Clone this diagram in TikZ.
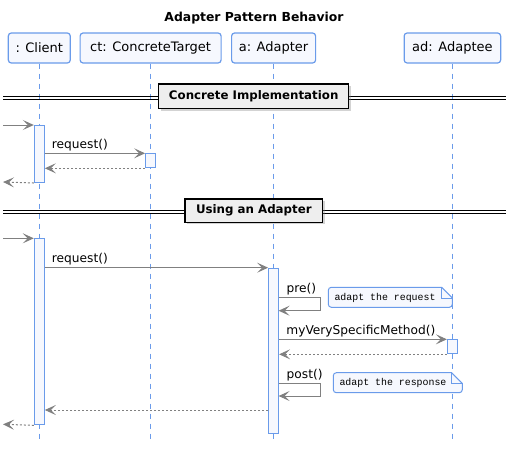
\documentclass[tikz,border=0pt]{standalone}
\usepackage{fontspec}
\setmainfont{DejaVu Sans}
\newfontfamily\notefont{Liberation Mono}
\usetikzlibrary{arrows.meta,shadows}
\definecolor{lblue}{HTML}{6A9BEA}
\definecolor{pfill}{HTML}{F6F8FE}
\definecolor{agray}{HTML}{808080}
\definecolor{dfill}{HTML}{EEEEEE}
\begin{document}
\begin{tikzpicture}[x=1pt,y=-1pt,
  part/.style={draw=lblue, fill=pfill, line width=1.2pt, rounded corners=3pt, minimum height=30pt, inner sep=0pt, font=\fontsize{13}{15}\selectfont},
  lifeline/.style={draw=lblue, line width=0.9pt, dash pattern=on 5pt off 5pt},
  act/.style={draw=lblue, fill=pfill, line width=1pt, minimum width=10pt, inner sep=0pt, anchor=north},
  msg/.style={draw=agray, line width=1pt, -{Stealth[length=11pt, width=10pt, inset=5pt]}},
  ret/.style={msg, dash pattern=on 2pt off 2pt},
  lbl/.style={anchor=base west, inner sep=0pt, font=\fontsize{12.2}{14}\selectfont},
  divline/.style={draw=black, line width=0.9pt},
  divbox/.style={draw=black, fill=dfill, line width=1.4pt, inner sep=0pt, font=\bfseries\fontsize{11.8}{14}\selectfont, drop shadow={shadow xshift=2pt, shadow yshift=-2pt, opacity=0.35}},
  notebox/.style={draw=lblue, fill=pfill, line width=1pt},
  notetext/.style={anchor=west, inner sep=0pt, font=\notefont\fontsize{9.9}{12}\selectfont}
]
\useasboundingbox (0,0) rectangle (516,453);

% title
\node[font=\bfseries\fontsize{12.4}{15}\selectfont] (title) at (254,18) {Adapter Pattern Behavior};

% participants
\node[part, minimum width=62pt] (client) at (39.3,48) {: Client};
\node[part, minimum width=141pt] (ct) at (150.6,48) {ct: ConcreteTarget};
\node[part, minimum width=84pt] (ad) at (273.6,48) {a: Adapter};
\node[part, minimum width=96.5pt] (adp) at (452.4,48) {ad: Adaptee};

% lifeline ends
\coordinate (clientE) at (39.3,439);
\coordinate (ctE) at (150.6,439);
\coordinate (adE) at (273.6,439);
\coordinate (adpE) at (452.4,439);
\draw[lifeline] (client.south) -- (clientE);
\draw[lifeline] (ct.south) -- (ctE);
\draw[lifeline] (ad.south) -- (adE);
\draw[lifeline] (adp.south) -- (adpE);

% divider 1
\coordinate (d1l) at (3,96); \coordinate (d1r) at (506,96);
\coordinate (d1l2) at (3,99); \coordinate (d1r2) at (506,99);
\draw[divline] (d1l) -- (d1r);
\draw[divline] (d1l2) -- (d1r2);
\node[divbox, minimum width=190pt, minimum height=24.5pt] (div1) at (253.7,96.4) {Concrete Implementation};

% divider 2
\coordinate (d2l) at (3,210); \coordinate (d2r) at (506,210);
\coordinate (d2l2) at (3,213); \coordinate (d2r2) at (506,213);
\draw[divline] (d2l) -- (d2r);
\draw[divline] (d2l2) -- (d2r2);
\node[divbox, minimum width=137.5pt, minimum height=23.3pt] (div2) at (253.8,210.7) {Using an Adapter};

% activations part 1
\node[act, minimum height=57pt] (ca1) at (39.3,125) {};
\node[act, minimum height=14pt] (cta) at (150.6,153.3) {};

\coordinate (in1) at (3,125);
\coordinate (out1) at (3,182);
\draw[msg] (in1) -- (ca1.north west);
\draw[msg] (ca1.east |- cta.north) -- (cta.north west);
\node[lbl] (l1) at (51.7,148) {request()};
\draw[ret] (cta.south west) -- (ca1.east |- cta.south);
\draw[ret] (ca1.south west) -- (out1);

% activations part 2
\node[act, minimum height=186pt] (ca2) at (39.3,238.3) {};
\node[act, minimum height=165.5pt] (aa) at (273.6,267.7) {};
\node[act, minimum height=14pt] (adpa) at (452.4,339.3) {};

\coordinate (in2) at (3,238.3);
\coordinate (out2) at (3,424.3);
\draw[msg] (in2) -- (ca2.north west);
\draw[msg] (ca2.east |- aa.north) -- (aa.north west);
\node[lbl] (l2) at (51.7,262.8) {request()};

% pre()
\coordinate (pre1) at (278.6,297.3);
\coordinate (pre2) at (320.7,297.3);
\coordinate (pre3) at (320.7,310.7);
\coordinate (pre4) at (278.6,310.7);
\draw[msg] (pre1) -- (pre2) -- (pre3) -- (pre4);
\node[lbl] (l3) at (286.5,292.5) {pre()};

% note 1
\draw[notebox] (328.3,297.3) [rounded corners=3pt] -- (328.3,287.3) [sharp corners] -- (441.6,287.3) -- (452.3,298) [rounded corners=3pt] -- (452.3,307.3) -- (328.3,307.3) [sharp corners] -- cycle;
\draw[notebox, fill=none] (441.6,287.3) -- (441.6,298) -- (452.3,298);
\node[notetext] (n1) at (334.3,297.5) {adapt the request};

% myVerySpecificMethod
\draw[msg] (aa.east |- adpa.north) -- (adpa.north west);
\node[lbl] (l4) at (286.2,334.5) {myVerySpecificMethod()};
\draw[ret] (adpa.south west) -- (aa.east |- adpa.south);

% post()
\coordinate (post1) at (278.6,383.3);
\coordinate (post2) at (320.7,383.3);
\coordinate (post3) at (320.7,396);
\coordinate (post4) at (278.6,396);
\draw[msg] (post1) -- (post2) -- (post3) -- (post4);
\node[lbl] (l5) at (286.5,378.5) {post()};

% note 2
\draw[notebox] (333.3,382.7) [rounded corners=3pt] -- (333.3,372.7) [sharp corners] -- (451.6,372.7) -- (462.3,383.4) [rounded corners=3pt] -- (462.3,392.7) -- (333.3,392.7) [sharp corners] -- cycle;
\draw[notebox, fill=none] (451.6,372.7) -- (451.6,383.4) -- (462.3,383.4);
\node[notetext] (n2) at (339.3,382.9) {adapt the response};

% returns
\draw[ret] (aa.west |- 0,410) -- (ca2.east |- 0,410);
\draw[ret] (ca2.south west) -- (out2);
\end{tikzpicture}
\end{document}
